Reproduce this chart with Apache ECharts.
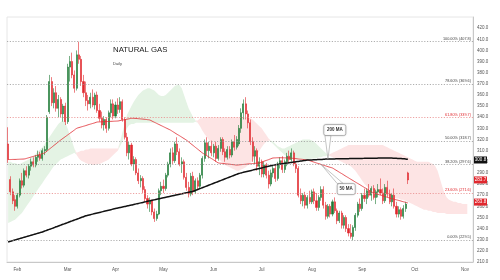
<!DOCTYPE html>
<html><head><meta charset="utf-8">
<script src="https://cdn.jsdelivr.net/npm/echarts@6/dist/echarts.min.js"></script>
<style>html,body{margin:0;padding:0;background:#fff}#c{width:500px;height:280px}</style>
</head><body><div id="c"></div>
<script>
const categoryCount = 204;
const monthNames = ['Feb','Mar','Apr','May','Jun','Jul','Aug','Sep','Oct','Nov'];
const monthStarts = [4,26,47,68,90,111,133,155,178,200];
const yTickMin = 210, yTickMax = 430, yTickStep = 10;

// [open, close, low, high]
const candles = [
[316,302,299,331],[284,273,270,287],[273,265,262,276],[266,260,256,270],[260,270,258,272],
[270,283,268,285],[283,279,276,290],[279,292,277,294],[292,288,286,296],[288,296,285,298],
[296,300,292,303],[300,297,295,304],[297,304,295,306],[304,306,300,310],[306,303,301,309],
[303,310,301,312],[310,311,306,314],[311,340,309,342],[345,372,343,378],[372,353,350,376],
[353,362,348,366],[362,348,345,368],[348,356,340,360],[356,343,340,358],[343,350,336,352],
[350,336,333,353],[336,385,334,388],[385,390,372,395],[390,378,375,398],[378,366,362,382],
[366,396,364,400],[396,392,388,407.8],[392,372,368,395],[372,362,358,378],[362,355,350,372],
[355,352,346,360],[352,358,348,362],[358,351,349,365],[351,360,347,362],[360,346,344,363],
[346,339,336,352],[339,333,330,345],[333,338,328,341],[338,330,326,340],[330,344,328,346],
[344,352,340,356],[352,341,338,356],[341,351,339,354],[351,347,343,357],[347,354,344,358],
[354,338,336,356],[338,322,320,340],[322,308,305,326],[308,315,302,318],[315,298,296,317],
[298,302,292,305],[302,290,288,304],[290,283,280,294],[283,285,277,288],[285,275,272,287],
[275,267,264,278],[267,262,258,270],[262,265,255,268],[265,255,252,266],[255,249,246,258],
[249,253,247,256],[253,274,252,276],[274,278,270,282],[278,276,272,284],[276,288,274,290],
[288,298,286,300],[298,308,295,312],[308,301,298,313],[301,316,299,318],[316,309,306,322],
[309,298,296,312],[298,300,290,304],[300,286,284,302],[286,277,274,290],[277,271,268,282],
[271,287,269,290],[287,273,270,291],[273,283,271,285],[283,278,275,286],[278,288,276,290],
[288,303,285,305],[303,317,300,320],[317,310,306,322],[310,314,303,318],[314,308,305,319],
[308,314,304,316],[314,303,300,318],[303,312,301,315],[312,320,309,322],[320,309,306,322],
[309,304,300,312],[304,311,302,314],[311,306,303,314],[306,318,304,320],[318,313,310,324],
[313,320,311,323],[316,330,314,333],[330,344,326,348],[344,352,338,356],[352,343,338,358],
[343,335,330,346],[335,318,315,338],[318,305,300,322],[305,310,298,314],[310,296,292,312],
[296,300,288,304],[300,289,286,302],[289,297,286,300],[297,288,285,299],[288,280,276,292],
[280,290,278,293],[290,294,286,297],[294,285,282,297],[285,298,283,300],[298,301,294,304],
[301,293,290,305],[293,300,290,302],[300,305,296,308],[305,302,299,310],[302,308,300,312],
[308,298,296,310],[298,294,290,300],[294,270,268,296],[270,265,262,276],[265,270,260,272],
[270,261,258,273],[261,268,258,270],[268,264,262,274],[264,273,262,275],[273,265,262,276],
[265,259,256,272],[259,268,256,270],[268,275,265,278],[275,261,258,278],[261,251,248,264],
[251,260,249,262],[260,253,250,262],[253,264,251,266],[264,256,254,268],[256,247,244,258],
[247,254,245,256],[254,243,240,256],[243,250,240,252],[250,240,237,252],[240,236,233,244],
[236,233,231,244],[233,241,229.5,243],[241,252,238,254],[252,262,250,264],[262,258,255,267],
[258,270,256,272],[270,267,264,276],[267,274,262,276],[274,270,268,280],[270,276,265,278],
[276,268,266,279],[268,273,262,275],[273,275,268,280],[275,272,270,285],[272,265,262,276],
[265,277,263,280],[277,271,268,283],[271,264,262,275],[264,270,260,272],[270,260,258,276],
[260,253,250,264],[253,257,250,260],[257,251,248,259],[251,258,249,261],[258,262,255,264],
[290,283.7,280,291]
];

const ma50 = [
302,302,302.1,302.1,302.2,302.3,302.4,302.5,303,303.6,304.2,304.8,305.4,306,306.6,307.3,308,
309.6,311.3,312.9,314.6,316.2,317.9,319.5,321,322.5,324,325.5,327,328.5,330,
330.7,331.3,331.9,332.5,333.2,333.8,334.4,335,335.7,335.8,335.9,336,336.1,336.2,336.3,336.4,336.5,336.6,
337,337.4,337.8,338.2,338.6,339,339,338.9,338.7,338.5,338.3,338.1,337.8,337.5,
336.5,335.5,334.5,333.5,332.5,331.5,330.5,329.5,328.5,327.2,325.9,324.6,323.4,322.1,320.8,319.5,
317.9,316.2,314.6,312.9,311.3,309.6,308,306.7,305.4,304.1,302.9,301.6,300.3,299,
298.7,298.5,298.2,298,297.8,297.5,297.3,297,297.2,297.4,297.6,297.8,298,298.2,298.4,298.6,298.8,299,
299.7,300.5,301.2,301.9,302.7,303.4,303.5,303.6,303.6,303.6,303.5,303.5,303.4,
303.2,303,302.8,302.5,302.3,302.1,301.8,301.6,301,300.3,299.6,298.9,298.3,297.6,296.9,296.3,295.6,295,294.4,
293.1,291.9,290.6,289.4,288.1,286.8,285.6,284.3,283.1,281.8,280.6,279.4,278.1,276.9,275.7,274.5,273.2,272,
271.4,270.7,270.1,269.4,268.8,268.1,267.5,266.9,266.4,265.8,265.3,264.7,264.1,263.6,263
];

const ma200 = [
228,228.6,229.2,229.8,230.4,231,231.6,232.2,232.8,233.4,234,234.6,235.2,235.8,236.4,237,
237.8,238.5,239.3,240,240.8,241.6,242.3,243.1,243.9,244.6,245.4,246.2,246.9,247.7,248.4,249.2,250,250.7,251.5,
252,252.5,253,253.5,254,254.5,255,255.5,256,256.5,257,257.5,258,
258.5,258.9,259.4,259.8,260.3,260.8,261.2,261.7,262.2,262.6,263.1,263.5,264,
264.5,264.9,265.4,265.8,266.3,266.7,267.2,267.6,268.1,268.5,269,269.4,269.9,270.3,270.8,271.2,271.7,272.1,272.6,273,273.5,
274.3,275.1,275.9,276.7,277.5,278.3,279.1,279.9,280.7,281.5,282.3,283.1,283.9,284.7,285.5,286.3,287.1,287.9,288.7,289.5,
290,290.5,291,291.5,292,292.5,293,293.5,294,294.5,295,295.5,296,296.5,297,
297.3,297.6,297.9,298.2,298.5,298.8,299.1,299.4,299.7,300,300.3,300.6,300.9,301.2,301.5,
301.6,301.7,301.8,301.9,302,302.1,302.2,302.4,302.5,
302.6,302.6,302.6,302.7,302.7,302.7,302.8,302.8,302.8,302.9,302.9,302.9,303,303,303,303.1,303.1,303.1,303.2,303.2,303.2,303.3,303.3,303.3,303.4,303.4,303.4,
303.3,303.2,303.1,303,302.9,302.7,302.5,302.2
];

const spanA = [
300,300,299,299,298,298,299,300,301,302,303,305,307,309,311,313,316,319,322,325,328,331,334,336,337,335,330,324,318,312,306,
303,301,300,299,298,298,297,297,298,298,299,300,301,302,304,306,308,310,
318,326,334,342,346,350,354,357,360,362,364,365,366,366,365,364,362,360,359,359,360,362,364,366,368,369,369,366,360,354,348,344,340,337,335,
332,328,325,322,319,316,312,308,304,301,299,297,296,295,294,293,292,292,293,294,295,297,299,301,304,307,310,313,316,318,319,
319,318,316,314,313,312,312,313,314,315,316,317,
318,319,320,320,320,320,319,318,316,314,312,310,308,306,
305,304,303,302,301,300,299,298,297,296,294,292,289,286,283,280,278,276,275,274,273,272,271,270,270,269,269,268,268,267,267,266,266,265,264,263,262,261,260,259,
258,257,257,256,256,255,255,254,254,254,254,253,253,253,253,253,253,253,253,253,253
];
const spanB = [
245,246,247,248,250,252,254,257,260,263,266,269,272,275,278,281,284,287,290,293,296,298,300,302,303,304,305,306,307,308,308,
309,310,310,311,311,312,312,312,312,312,312,312,312,312,312,312,312,312,
314,318,325,330,333,334,334,335,335,335,335,335,335,335,335,335,335,335,335,335,335,335,335,335,335,335,335,335,335,335,335,335,335,336,337,
339,339,340,340,340,340,340,340,340,340,340,340,340,340,340,340,340,340,340,340,340,340,339,338,336,334,332,330,327,324,321,
318,316,314,312,310,308,306,305,304,303,302,302,
302,302,302,302,302,302,303,303,303,304,304,305,305,306,
307,308,309,310,311,312,313,314,315,315,315,315,315,315,315,315,315,315,315,315,315,315,315,315,314,313,312,311,310,309,308,307,306,305,304,303,302,301,300,300,
300,300,300,300,299,298,296,292,285,278,272,268,266,265,264,264,263,263,262,262,262
];

const fibLevels = [
  {pct:'100.00%', value:407.8, accent:false},
  {pct:'78.60%', value:369.6, accent:false},
  {pct:'61.80%', value:339.7, accent:true},
  {pct:'50.00%', value:318.7, accent:false},
  {pct:'38.20%', value:297.6, accent:false},
  {pct:'23.60%', value:271.6, accent:true},
  {pct:'0.00%', value:229.5, accent:false}
];
const priceTags = [
  {value:301.6, text:'300.8', bg:'#111111'},
  {value:283.7, text:'283.7', bg:'#e0282e'},
  {value:263.8, text:'263.8', bg:'#e0282e'}
];
const callouts = [
  {text:'200 MA', boxIdx:143, boxVal:328.5, tipIdx:140, line:'ma200'},
  {text:'50 MA', boxIdx:148, boxVal:275.5, tipIdx:137, line:'ma50'}
];

const GREEN = '#1f7a35', RED = '#e0282e';
const cats = Array.from({length: categoryCount}, (_, i) => String(i));
const cloudBase = spanA.map((a, i) => Math.min(a, spanB[i]));
const cloudGreen = spanA.map((a, i) => a > spanB[i] ? a - spanB[i] : 0);
const cloudRed = spanA.map((a, i) => spanB[i] > a ? spanB[i] - a : 0);
const FONT = "'Liberation Sans', Arial, sans-serif";

const chart = echarts.init(document.getElementById('c'));
chart.setOption({
  animation: false,
  backgroundColor: '#ffffff',
  grid: {left: 7, right: 27, top: 17, bottom: 18, show: true, borderColor: '#e6e6e6', borderWidth: 1, backgroundColor: 'transparent'},
  title: {
    text: 'NATURAL GAS', subtext: 'Daily', left: 113, top: 46, itemGap: 8, padding: 0,
    textStyle: {fontFamily: FONT, fontSize: 7.8, fontWeight: 'normal', color: '#222'},
    subtextStyle: {fontFamily: FONT, fontSize: 4, color: '#444'}
  },
  xAxis: {
    type: 'category', data: cats, boundaryGap: true,
    axisLine: {show: true, lineStyle: {color: '#c8c8c8', width: 1}},
    axisTick: {show: false},
    splitLine: {show: false},
    axisLabel: {
      interval: (idx) => monthStarts.indexOf(idx) >= 0,
      formatter: (v, idx) => { const k = monthStarts.indexOf(idx); return k >= 0 ? monthNames[k] : ''; },
      fontSize: 4.5, color: '#555', fontFamily: FONT, margin: 5
    }
  },
  yAxis: {
    type: 'value', position: 'right', min: yTickMin, max: yTickMax, interval: yTickStep,
    axisLine: {show: true, lineStyle: {color: '#c8c8c8', width: 1}},
    axisTick: {show: false}, splitLine: {show: false},
    axisLabel: {showMaxLabel: false, formatter: v => v.toFixed(1), fontSize: 4.5, color: '#555', fontFamily: FONT, margin: 4}
  },
  series: [
    {name: 'kumoBase', type: 'line', stack: 'kumo', data: cloudBase, symbol: 'none', silent: true, lineStyle: {width: 0}, z: 1},
    {name: 'kumoGreen', type: 'line', stack: 'kumo', data: cloudGreen, symbol: 'none', silent: true, lineStyle: {width: 0}, areaStyle: {color: '#e4f3e4', opacity: 1}, z: 1},
    {name: 'kumoRed', type: 'line', stack: 'kumo', data: cloudRed, symbol: 'none', silent: true, lineStyle: {width: 0}, areaStyle: {color: '#fde4e4', opacity: 1}, z: 1},
    {
      name: 'price', type: 'candlestick', data: candles, barWidth: '68%', z: 3,
      itemStyle: {color: GREEN, color0: RED, borderColor: GREEN, borderColor0: RED, borderWidth: 0.6},
      markLine: {
        silent: true, symbol: ['none', 'none'], animation: false,
        data: fibLevels.map(f => ({
          yAxis: f.value, name: f.pct + ' (' + f.value.toFixed(1) + ')',
          lineStyle: {color: f.accent ? '#e88a8a' : '#9a9a9a', type: [1.2, 1.6], width: 0.8},
          label: {show: true, position: 'insideEndTop', formatter: '{b}', fontSize: 3.8, color: f.accent ? '#e0282e' : '#444', fontFamily: FONT, distance: [2, 1]}
        }))
      }
    },
    {name: 'ma50', type: 'line', data: ma50, symbol: 'none', smooth: true, lineStyle: {color: '#e0282e', width: 0.8}, z: 4},
    {name: 'ma200', type: 'line', data: ma200, symbol: 'none', smooth: true, lineStyle: {color: '#111', width: 1.5}, z: 4}
  ]
});

const lines = {ma50: ma50, ma200: ma200};
const g = [];
callouts.forEach(c => {
  const box = chart.convertToPixel({seriesIndex: 3}, [c.boxIdx, c.boxVal]);
  const tip = chart.convertToPixel({seriesIndex: 3}, [c.tipIdx, lines[c.line][c.tipIdx]]);
  const w = c.text.length > 5 ? 22 : 18, h = 11;
  const bx = box[0] - w / 2, by = box[1] - h / 2;
  const anchorX = Math.max(bx + 3, Math.min(bx + w - 3, tip[0]));
  const anchorY = tip[1] > box[1] ? by + h : by;
  g.push({type: 'polygon', z: 20, shape: {points: [[anchorX - 3, anchorY], [tip[0], tip[1]], [anchorX + 3, anchorY]]}, style: {fill: '#fff', stroke: '#8a8a8a', lineWidth: 0.5}});
  g.push({type: 'rect', z: 21, shape: {x: bx, y: by, width: w, height: h, r: 2}, style: {fill: '#fff', stroke: '#8a8a8a', lineWidth: 0.5, shadowBlur: 1.5, shadowColor: 'rgba(0,0,0,0.25)'}});
  g.push({type: 'text', z: 22, style: {text: c.text, x: box[0], y: box[1], align: 'center', verticalAlign: 'middle', fontSize: 4.5, fontWeight: 'bold', fill: '#333', fontFamily: FONT}});
});
const gridRight = 500 - 27;
priceTags.forEach(t => {
  const y = chart.convertToPixel({seriesIndex: 3}, [0, t.value])[1];
  g.push({type: 'rect', z: 30, shape: {x: gridRight + 1, y: y - 3.5, width: 13, height: 7}, style: {fill: t.bg}});
  g.push({type: 'text', z: 31, style: {text: t.text, x: gridRight + 7.5, y: y, align: 'center', verticalAlign: 'middle', fontSize: 4.5, fill: '#fff', fontFamily: FONT}});
});
chart.setOption({graphic: g});
</script>
</body></html>
